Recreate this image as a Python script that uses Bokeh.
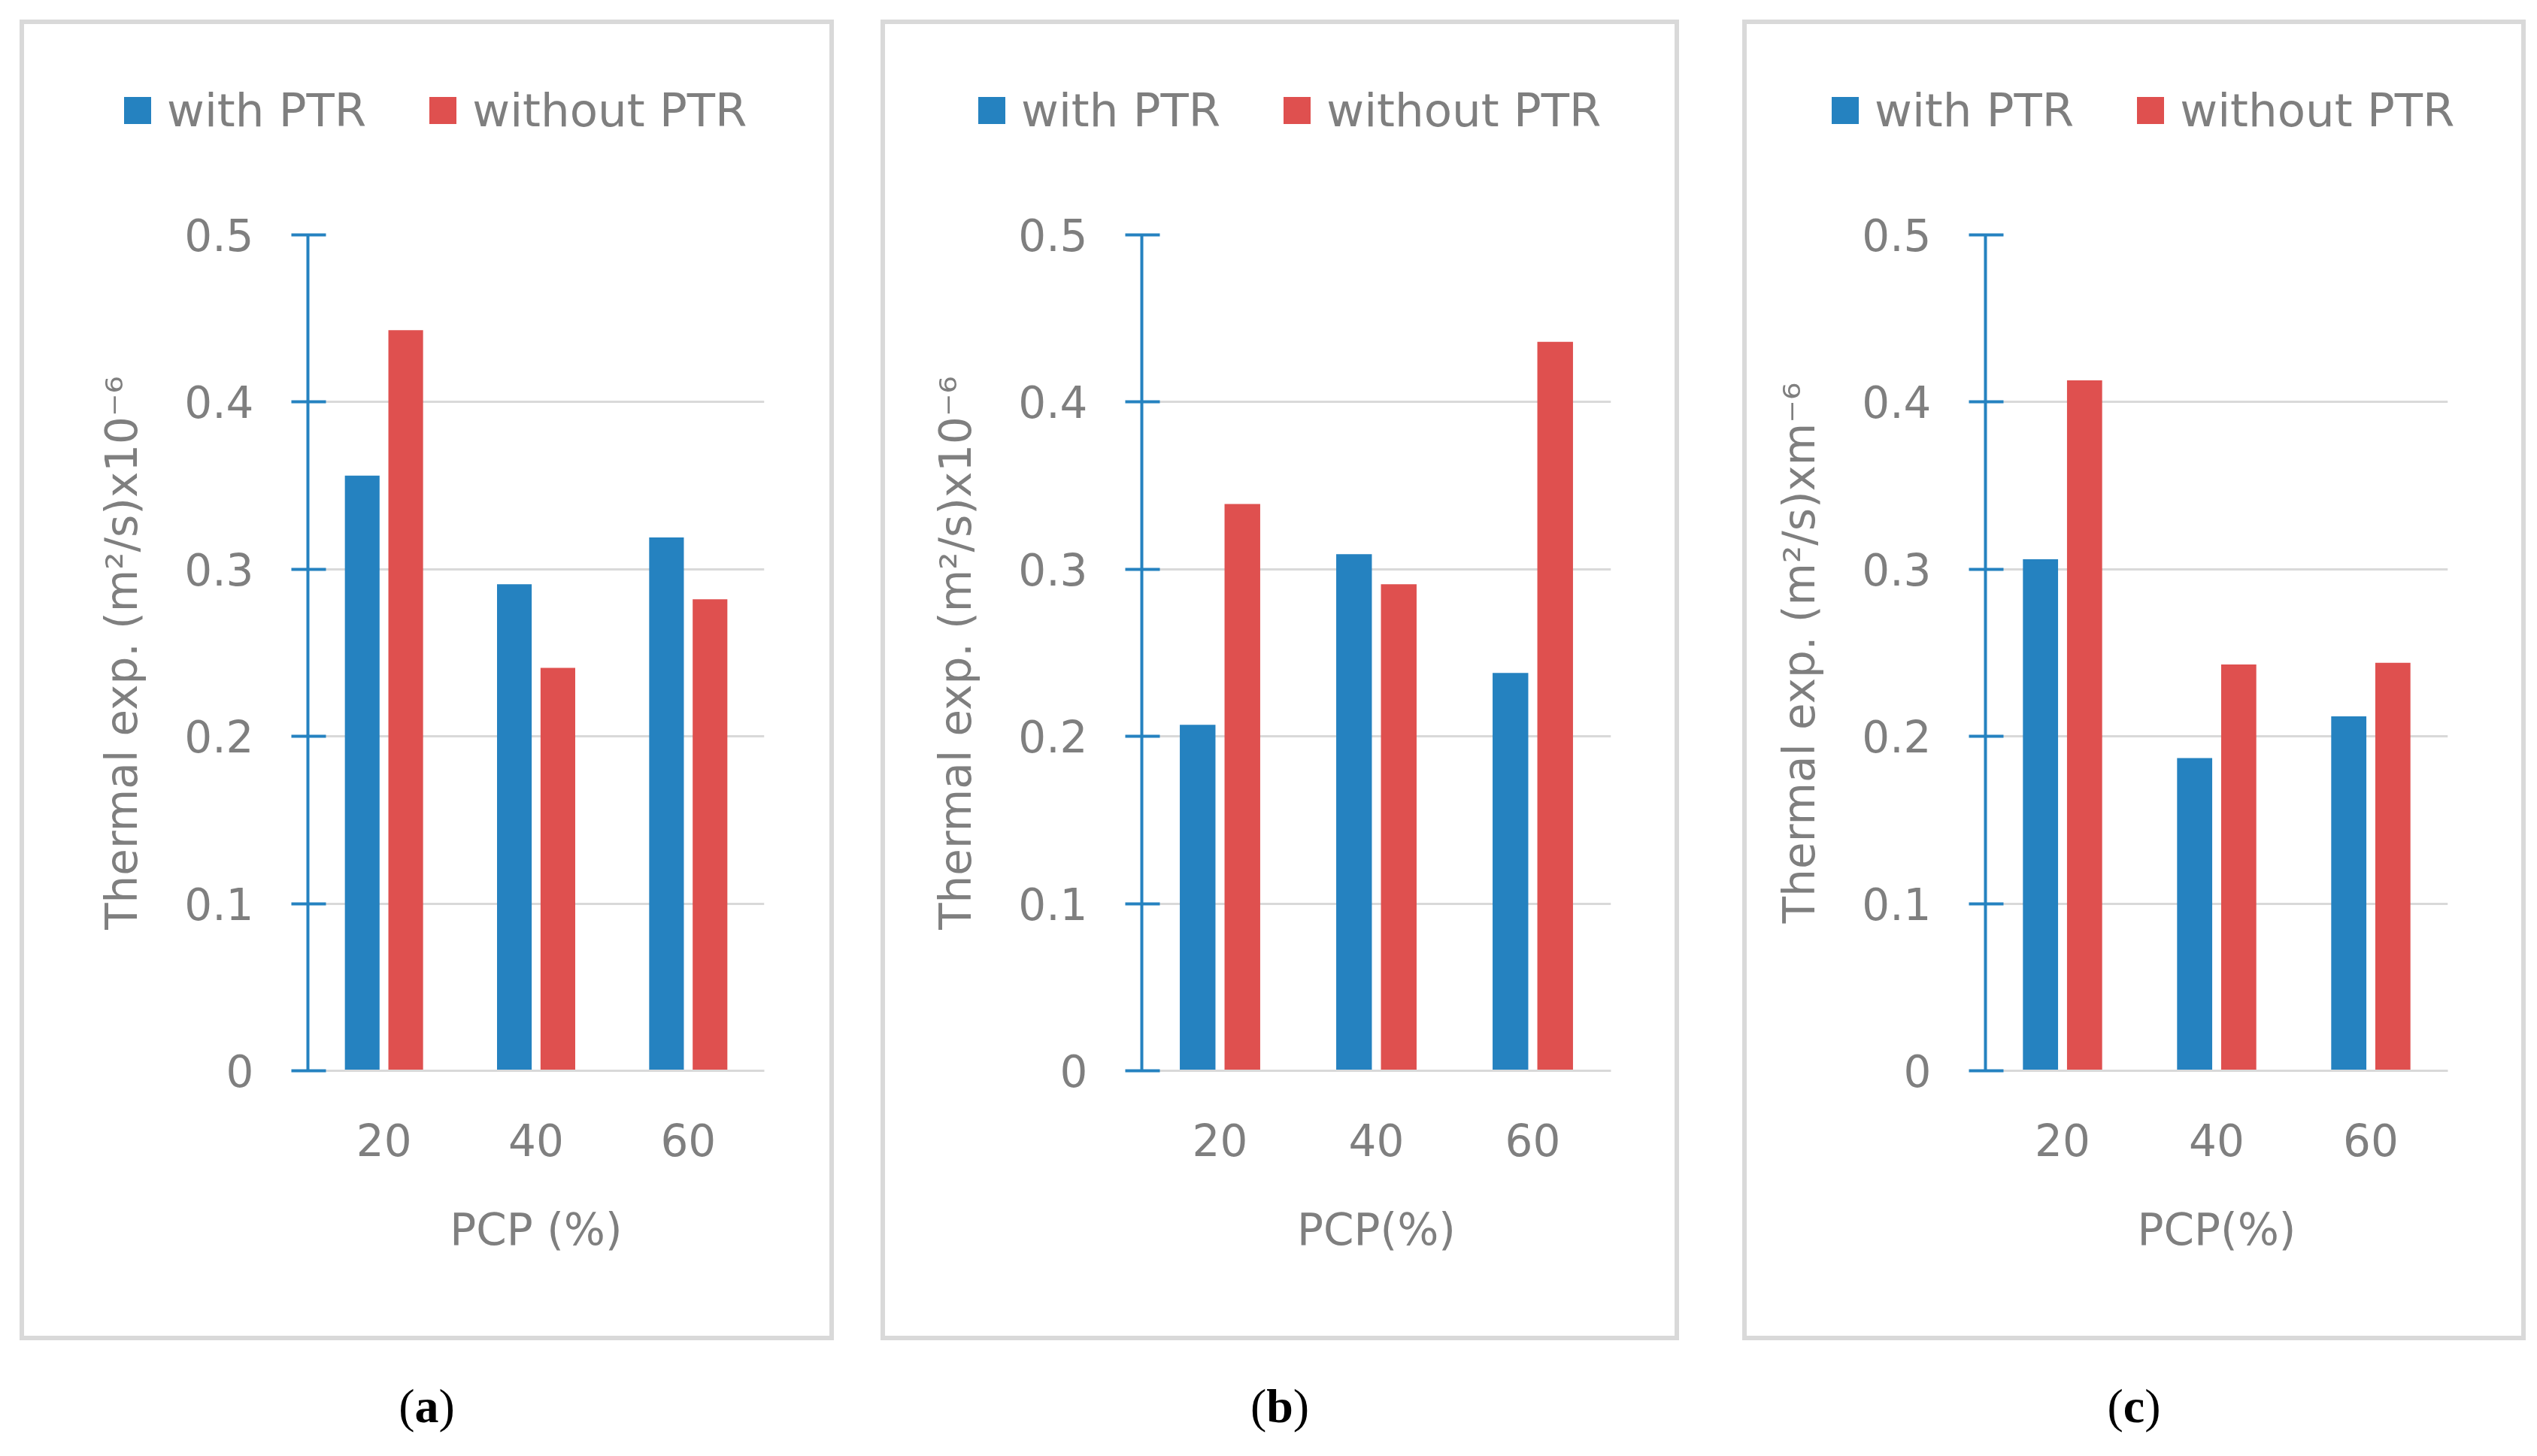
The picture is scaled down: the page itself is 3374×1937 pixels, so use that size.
from bokeh.plotting import figure
from bokeh.models import ColumnDataSource, FactorRange, Range1d, Legend, LegendItem, Div, FixedTicker
from bokeh.layouts import row, column
from bokeh.transform import dodge
from bokeh.embed import file_html
from bokeh.resources import INLINE

# data
pcp = ["20", "40", "60"]
a_with = [0.356, 0.291, 0.319]
a_without = [0.443, 0.241, 0.282]
b_with = [0.207, 0.309, 0.238]
b_without = [0.339, 0.291, 0.436]
c_with = [0.306, 0.187, 0.212]
c_without = [0.413, 0.243, 0.244]

y_ticks = [0, 0.1, 0.2, 0.3, 0.4, 0.5]
y_tick_labels = ["0", "0.1", "0.2", "0.3", "0.4", "0.5"]
series = ["with PTR", "without PTR"]

BLUE = "#2582c0"
RED = "#df504f"
GRAY = "#7f7f7f"
GRID = "#d9d9d9"
FONT = "DejaVu Sans"

LEG_H = 220     # strip above the chart that holds the legend
MAIN_H = 1525


def legend_strip(width, legend_x):
    # small figure whose frame is the whole canvas, used only for the legend
    lf = figure(width=width, height=LEG_H, x_range=Range1d(0, 1), y_range=Range1d(0, 1),
                x_axis_type=None, y_axis_type=None, output_backend="svg",
                toolbar_location=None, min_border=0)
    if "frame_align" in lf.properties():
        lf.frame_align = False
    lf.outline_line_color = None
    lf.grid.visible = False
    # zero-height bars: nothing is drawn, they only give the legend its swatches
    swatch = ColumnDataSource(data=dict(x=[0], top=[0]))
    r1 = lf.vbar(x="x", top="top", width=0.1, source=swatch, fill_color=BLUE, line_color=None)
    r2 = lf.vbar(x="x", top="top", width=0.1, source=swatch, fill_color=RED, line_color=None)
    legend = Legend(items=[LegendItem(label=series[0], renderers=[r1]),
                           LegendItem(label=series[1], renderers=[r2])],
                    orientation="horizontal", location=(legend_x, 70),
                    glyph_width=45, glyph_height=45, label_standoff=17, spacing=79,
                    padding=0, margin=0, border_line_alpha=0, background_fill_alpha=0,
                    label_text_font=FONT, label_text_font_size="61px",
                    label_text_color=GRAY)
    lf.add_layout(legend, "center")
    return lf


def main_chart(with_vals, without_vals, ylabel, xlabel, width, left, right):
    src = ColumnDataSource(data=dict(pcp=pcp, with_ptr=with_vals, without_ptr=without_vals))
    p = figure(x_range=FactorRange(factors=pcp, range_padding=0), y_range=Range1d(0, 0.5),
               width=width, height=MAIN_H, output_backend="svg", toolbar_location=None,
               min_border_left=left, min_border_right=right,
               min_border_top=60, min_border_bottom=353)
    if "frame_align" in p.properties():
        p.frame_align = False
    p.outline_line_color = None

    p.vbar(x=dodge("pcp", -0.143, range=p.x_range), top="with_ptr", width=0.228,
           source=src, fill_color=BLUE, line_color=None)
    p.vbar(x=dodge("pcp", 0.143, range=p.x_range), top="without_ptr", width=0.228,
           source=src, fill_color=RED, line_color=None)

    p.xgrid.grid_line_color = None
    p.ygrid.grid_line_color = GRID
    p.ygrid.grid_line_width = 3
    p.ygrid.level = "underlay"

    yax = p.yaxis[0]
    yax.ticker = FixedTicker(ticks=y_ticks)
    yax.major_label_overrides = dict(zip(y_ticks, y_tick_labels))
    yax.axis_line_color = BLUE
    yax.axis_line_width = 4
    yax.major_tick_line_color = BLUE
    yax.major_tick_line_width = 4
    yax.major_tick_in = 24
    yax.major_tick_out = 22
    yax.minor_tick_line_color = None
    yax.major_label_standoff = 50
    yax.major_label_text_font = FONT
    yax.major_label_text_font_size = "58px"
    yax.major_label_text_color = GRAY
    yax.axis_label = ylabel
    yax.axis_label_text_font = FONT
    yax.axis_label_text_font_size = "58px"
    yax.axis_label_text_font_style = "normal"
    yax.axis_label_text_color = GRAY
    yax.axis_label_standoff = 46

    xax = p.xaxis[0]
    xax.axis_line_color = GRID
    xax.axis_line_width = 3
    xax.major_tick_line_color = None
    xax.minor_tick_line_color = None
    xax.major_label_standoff = 64
    xax.major_label_text_font = FONT
    xax.major_label_text_font_size = "58px"
    xax.major_label_text_color = GRAY
    xax.axis_label = xlabel
    xax.axis_label_text_font = FONT
    xax.axis_label_text_font_size = "58px"
    xax.axis_label_text_font_style = "normal"
    xax.axis_label_text_color = GRAY
    xax.axis_label_standoff = 61
    return p


def panel(letter, with_vals, without_vals, ylabel, xlabel, width, left, right, legend_x, gap):
    box = column(legend_strip(width, legend_x),
                 main_chart(with_vals, without_vals, ylabel, xlabel, width, left, right),
                 styles={"outline": "6px solid " + GRID,
                         "box-shadow": "0 0 0 6px " + GRID})
    cap = Div(text="(<b>" + letter + "</b>)", width=width, height=80, margin=(54, 0, 0, 0),
              styles={"text-align": "center", "font-family": "Liberation Serif",
                      "font-size": "64px", "line-height": "80px", "color": "#000000"})
    return column(box, cap, margin=(32, 0, 0, gap))


col_a = panel("a", a_with, a_without, "Thermal exp. (m²/s)x10⁻⁶", "PCP (%)", 1071, 377, 87, 128, 32)
col_b = panel("b", b_with, b_without, "Thermal exp. (m²/s)x10⁻⁶", "PCP(%)", 1050, 341, 85, 119, 74)
col_c = panel("c", c_with, c_without, "Thermal exp. (m²/s)xm⁻⁶", "PCP(%)", 1030, 317, 98, 108, 96)
layout = row(col_a, col_b, col_c)

open("out.html", "w").write(file_html(layout, INLINE))
